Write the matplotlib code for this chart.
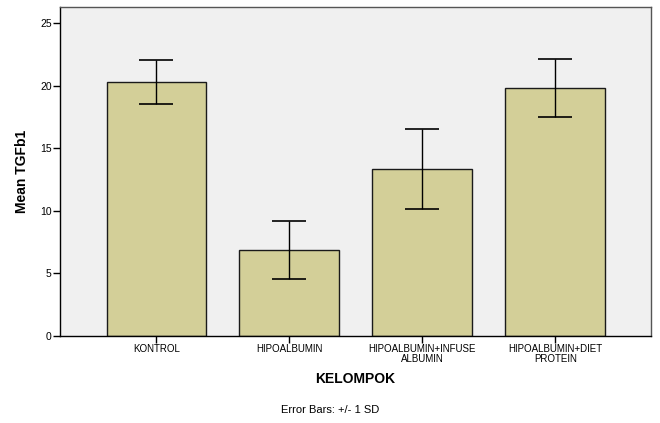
import numpy as np
import matplotlib.pyplot as plt

plt.rcParams['font.family'] = ['Liberation Sans', 'DejaVu Sans']

# Group means and standard deviations of TGFb1
groups = ['KONTROL', 'HIPOALBUMIN', 'HIPOALBUMIN+INFUSE\nALBUMIN', 'HIPOALBUMIN+DIET\nPROTEIN']
means = [20.33, 6.86, 13.34, 19.82]
sds = [1.75, 2.32, 3.20, 2.30]

fig = plt.figure(figsize=(6.6, 4.23), dpi=100)
ax = fig.add_axes([0.0909, 0.2057, 0.8955, 0.7778])
ax.set_facecolor('#f0f0f0')

x = np.arange(len(groups))
ax.bar(x, means, width=0.75, color='#d3cf98', edgecolor='#1a1a1a', linewidth=1.0, zorder=2)
ax.errorbar(x, means, yerr=sds, fmt='none', ecolor='black', elinewidth=1.0,
            capsize=12, capthick=1.2, zorder=3)

ax.set_xlim(-0.725, 3.72)
ax.set_ylim(0, 26.3)
ax.set_yticks([0, 5, 10, 15, 20, 25])
ax.set_xticks(x)
ax.set_xticklabels(groups, fontsize=7, linespacing=0.9)
ax.tick_params(axis='y', labelsize=7.5, length=5, width=1, pad=1)
ax.tick_params(axis='x', length=5, width=1, pad=1)

for side in ['left', 'bottom']:
    ax.spines[side].set_color('black')
    ax.spines[side].set_linewidth(1.0)
for side in ['top', 'right']:
    ax.spines[side].set_color('#555555')
    ax.spines[side].set_linewidth(1.0)

ax.set_ylabel('Mean TGFb1', fontsize=10, fontweight='bold', labelpad=8)
ax.set_xlabel('KELOMPOK', fontsize=10, fontweight='bold', labelpad=6)
fig.text(0.5, 0.024, 'Error Bars: +/- 1 SD', ha='center', fontsize=8)

fig.savefig('out.png', dpi=100)
